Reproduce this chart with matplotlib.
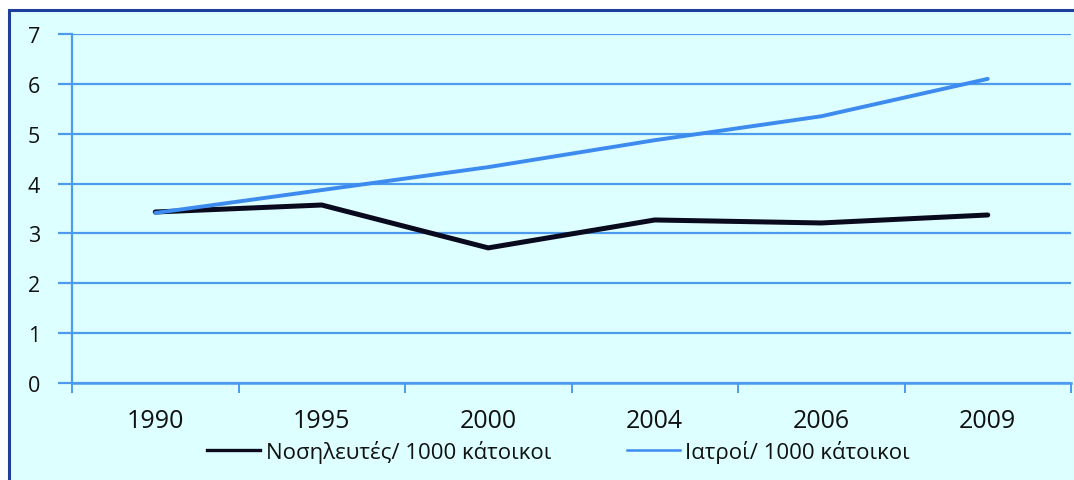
import matplotlib
matplotlib.use("Agg")
import matplotlib.pyplot as plt
from matplotlib.patches import Rectangle
from matplotlib.ticker import FixedLocator
from matplotlib.lines import Line2D

plt.rcParams['font.family'] = ['Open Sans', 'DejaVu Sans']

years = ['1990', '1995', '2000', '2004', '2006', '2009']
nurses = [3.43, 3.57, 2.71, 3.27, 3.21, 3.37]
doctors = [3.41, 3.87, 4.33, 4.87, 5.35, 6.10]
labels = ['Νοσηλευτές/ 1000 κάτοικοι', 'Ιατροί/ 1000 κάτοικοι']

W, H = 1074, 481
fig = plt.figure(figsize=(W / 100, H / 100), dpi=100)
fig.patch.set_facecolor('white')
bg = '#DDFFFF'
grid_c = '#4C9BEE'
fig.add_artist(Rectangle((9 / W, -0.01), 1.1, 1 - 11 / H + 0.01, transform=fig.transFigure,
                         facecolor=bg, edgecolor='#1F3F9A', linewidth=2.2, zorder=0))

ax = fig.add_axes([72 / W, 1 - 384 / H, (1071 - 72) / W, (384 - 35) / H])
ax.set_facecolor(bg)
x = list(range(len(years)))
ax.plot(x, nurses, color='#0A0A1E', linewidth=3.6, solid_capstyle='round', zorder=3)
ax.plot(x, doctors, color='#3D8BEF', linewidth=2.8, solid_capstyle='round', zorder=3)

ax.set_xlim(-0.5, len(years) - 0.5)
ax.set_ylim(0, 7)
ax.set_yticks(range(0, 8))
ax.yaxis.grid(True, color=grid_c, linewidth=1.6)
ax.set_axisbelow(True)
for s in ['top', 'right', 'bottom']:
    ax.spines[s].set_visible(False)
ax.spines['left'].set_color(grid_c)
ax.spines['left'].set_linewidth(1.6)
ax.tick_params(axis='y', length=10, width=1.6, color=grid_c, labelsize=15.5, pad=13, labelcolor='#111111')
ax.set_xticks(x)
ax.set_xticklabels(years)
ax.tick_params(axis='x', which='major', length=0, labelsize=18, pad=18, labelcolor='#111111')
ax.xaxis.set_minor_locator(FixedLocator([i - 0.5 for i in range(len(years) + 1)]))
ax.tick_params(axis='x', which='minor', length=7, width=1.4, color=grid_c)
ax.axhline(0, color=grid_c, linewidth=1.8, zorder=2, clip_on=False)

h1 = Line2D([], [], color='#0A0A1E', linewidth=2.4)
h2 = Line2D([], [], color='#3D8BEF', linewidth=1.8)
leg = fig.legend([h1, h2], labels, loc='center', bbox_to_anchor=(0.52, 1 - 452 / H), ncol=2, frameon=False,
                 fontsize=16, handlelength=2.4, handletextpad=0.25, columnspacing=3.4)
for t in leg.get_texts():
    t.set_color('#111111')

fig.savefig('out.png', dpi=100, facecolor=fig.get_facecolor())
